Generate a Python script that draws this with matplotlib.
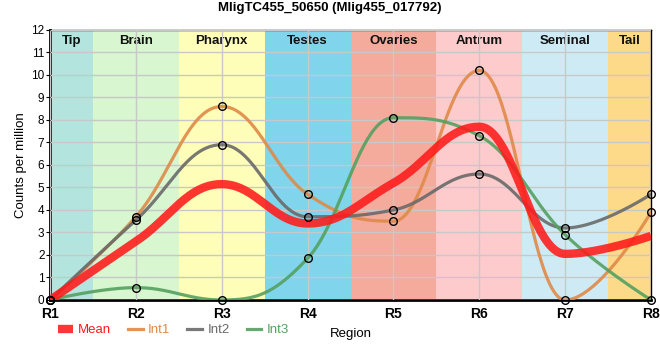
import numpy as np
import matplotlib
matplotlib.use("Agg")
import matplotlib.pyplot as plt

plt.rcParams['font.family'] = ['Liberation Sans', 'DejaVu Sans']

# data
regions = ["R1", "R2", "R3", "R4", "R5", "R6", "R7", "R8"]
mean_vals = [0.0, 2.6, 5.15, 3.4, 5.2, 7.7, 2.05, 2.85]
int1_vals = [0.0, 3.7, 8.6, 4.7, 3.5, 10.2, 0.0, 3.9]
int2_vals = [0.0, 3.55, 6.9, 3.7, 4.0, 5.6, 3.2, 4.7]
int3_vals = [0.0, 0.55, 0.0, 1.85, 8.1, 7.3, 2.9, 0.0]

tissues = ["Tip", "Brain", "Pharynx", "Testes", "Ovaries", "Antrum", "Seminal", "Tail"]
tissue_colors = ["#b4e4de", "#d8f6d0", "#fefeb8", "#80d4ec", "#f4ab9c",
                 "#fdcbcc", "#ceebf5", "#fdda8a"]


def spline(x, y, n=50, smoothing=1.5):
    # bezier spline with flattened control points at local extremes
    x = np.asarray(x, float)
    y = np.asarray(y, float)
    k = len(x)
    lcx, lcy = x.copy(), y.copy()
    rcx, rcy = x.copy(), y.copy()
    den = smoothing + 1
    for i in range(1, k - 1):
        lx, ly, px, py, nx, ny = x[i - 1], y[i - 1], x[i], y[i], x[i + 1], y[i + 1]
        lX = (smoothing * px + lx) / den
        lY = (smoothing * py + ly) / den
        rX = (smoothing * px + nx) / den
        rY = (smoothing * py + ny) / den
        if rX != lX:
            joint = (rY - lY) * (px - lX) / (rX - lX) + lY
            diff = py - joint
            lY += diff
            rY += diff
        if lY > ly and lY > py:
            lY = max(ly, py)
            rY = 2 * py - lY
        elif lY < ly and lY < py:
            lY = min(ly, py)
            rY = 2 * py - lY
        if rY > ny and rY > py:
            rY = max(ny, py)
            lY = 2 * py - rY
        elif rY < ny and rY < py:
            rY = min(ny, py)
            lY = 2 * py - rY
        lcx[i], lcy[i], rcx[i], rcy[i] = lX, lY, rX, rY
    xs, ys = [], []
    t = np.linspace(0, 1, n)
    for i in range(k - 1):
        b0 = (1 - t) ** 3
        b1 = 3 * t * (1 - t) ** 2
        b2 = 3 * t ** 2 * (1 - t)
        b3 = t ** 3
        xs.append(b0 * x[i] + b1 * rcx[i] + b2 * lcx[i + 1] + b3 * x[i + 1])
        ys.append(b0 * y[i] + b1 * rcy[i] + b2 * lcy[i + 1] + b3 * y[i + 1])
    return np.concatenate(xs), np.concatenate(ys)


x = np.arange(1, len(regions) + 1)

fig = plt.figure(figsize=(6.6, 3.6), dpi=100)
ax = fig.add_axes([0.0758, 0.1667, 0.9106, 0.75])

# tissue bands
for i, (name, col) in enumerate(zip(tissues, tissue_colors)):
    lo = max(1, i + 0.5)
    hi = min(8, i + 1.5)
    ax.axvspan(lo, hi, color=col, zorder=0, lw=0)
    ax.text((lo + hi) / 2, 11.5, name, ha='center', va='center',
            fontsize=9.5, fontweight='bold', color='#111111', zorder=1)

ax.set_xlim(1, 8)
ax.set_ylim(0, 12)
ax.set_yticks(range(0, 13))
ax.set_xticks(x)
ax.set_xticklabels(regions, fontweight='bold', fontsize=10)
ax.tick_params(axis='y', labelsize=8.5, length=3, pad=1)
ax.tick_params(axis='x', length=0, pad=5)
ax.grid(True, color='#c8c8c8', lw=1, zorder=1)
ax.set_axisbelow(False)

series = [
    ("Int1", int1_vals, "#df8a48"),
    ("Int2", int2_vals, "#6a6a6a"),
    ("Int3", int3_vals, "#55a060"),
]
handles = []
for name, vals, col in series:
    sx, sy = spline(x, vals)
    line, = ax.plot(sx, sy, color=col, lw=2.3, alpha=0.9, zorder=3, label=name)
    ax.plot(x, vals, 'o', ms=5.5, mfc='none', mec='black', mew=1, zorder=5, clip_on=False)
    handles.append(line)

mx, my = spline(x, mean_vals)
mline, = ax.plot(mx, my, color='#ff1a1a', lw=6, alpha=0.88, zorder=4,
                 solid_capstyle='butt', label="Mean")
handles = [mline] + handles

for s in ['left', 'bottom']:
    ax.spines[s].set_linewidth(2)
for s in ['top', 'right']:
    ax.spines[s].set_linewidth(1)

ax.set_ylabel("Counts per million", fontsize=9.5, labelpad=3)
ax.set_xlabel("Region", fontsize=9.5, labelpad=5)
fig.suptitle("MligTC455_50650 (Mlig455_017792)", fontsize=9.5, fontweight='bold', y=0.995)

leg = fig.legend(handles=handles, loc='center left', bbox_to_anchor=(0.07, 0.083),
                 ncol=4, frameon=False, fontsize=9.5, handlelength=1.1,
                 handletextpad=0.4, columnspacing=1.3)
for txt, h in zip(leg.get_texts(), handles):
    txt.set_color(h.get_color())

fig.savefig("out.png", dpi=100)
